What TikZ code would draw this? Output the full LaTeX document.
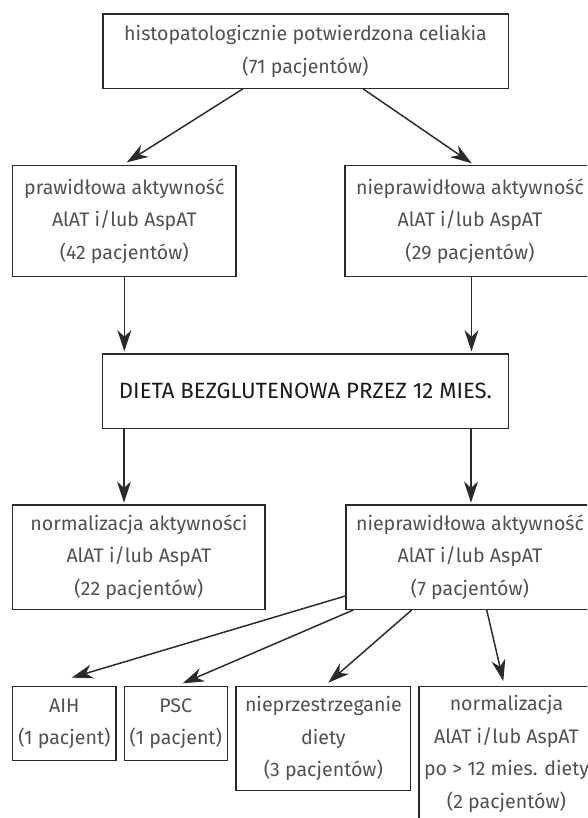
\documentclass[tikz,border=0pt]{standalone}
\usepackage{fontspec}
\setmainfont{Fira Sans}
\usetikzlibrary{arrows.meta,calc}
\definecolor{linec}{HTML}{2A2A2A}
\definecolor{textc}{HTML}{505050}
\definecolor{darkc}{HTML}{1A1A1A}
\tikzset{
  box/.style={draw=linec, line width=1pt, inner sep=0pt, align=center,
    text=textc, font=\fontsize{14.7}{24.4}\selectfont},
  arr/.style={draw=linec, line width=1.1pt,
    -{Stealth[length=16pt,width=10.5pt,inset=5pt]}}
}
\begin{document}
\begin{tikzpicture}[x=0.75pt,y=-0.75pt]
\useasboundingbox (0,0) rectangle (587,818);
\clip (0,0) rectangle (587,818);
\node[box, minimum width=304pt, minimum height=55.7pt] (top) at (305.5,51.2)
  {histopatologicznie potwierdzona celiakia\\(71 pacjentów)};
\node[box, minimum width=167.5pt, minimum height=83.25pt] (ml) at (124.35,221.2)
  {prawidłowa aktywność\\AlAT i/lub AspAT\\(42 pacjentów)};
\node[box, minimum width=187.5pt, minimum height=83.25pt] (mr) at (470,221.2)
  {nieprawidłowa aktywność\\AlAT i/lub AspAT\\(29 pacjentów)};
\node[box, text=darkc, font=\fontsize{16.6}{24.4}\selectfont, minimum width=304.2pt, minimum height=55.7pt] (dieta) at (305.5,391.2)
  {DIETA BEZGLUTENOWA PRZEZ 12 MIES.};
\node[box, minimum width=189.2pt, minimum height=78.2pt] (bl) at (138.85,557.2)
  {normalizacja aktywności\\AlAT i/lub AspAT\\(22 pacjentów)};
\node[box, minimum width=186pt, minimum height=78.2pt] (br) at (470,557.2)
  {nieprawidłowa aktywność\\AlAT i/lub AspAT\\(7 pacjentów)};
\node[box, minimum width=77.5pt, minimum height=55.5pt] (aih) at (64.35,723.7)
  {AIH\\(1 pacjent)};
\node[box, minimum width=77.25pt, minimum height=55.5pt] (psc) at (175.8,723.7)
  {PSC\\(1 pacjent)};
\node[box, minimum width=131pt, minimum height=78pt] (niep) at (323.35,738.7)
  {nieprzestrzeganie\\diety\\(3 pacjentów)};
\node[box, minimum width=131.25pt, minimum height=101pt] (norm) at (506.5,754)
  {normalizacja\\AlAT i/lub AspAT\\po > 12 mies. diety\\(2 pacjentów)};
% connectors
\draw[arr] ($(top.south)+(-62.8,0)$) -- ($(ml.north)+(2.35,-2.7)$);
\draw[arr] ($(top.south)+(57.8,0)$) -- ($(mr.north)+(1.7,-1.7)$);
\draw[arr] (ml.south) -- ($(ml.south |- dieta.north)+(0,-2)$);
\draw[arr] ($(mr.south)+(1.5,0)$) coordinate (m2) -- ($(m2 |- dieta.north)+(0,-2)$);
\draw[arr] ($(dieta.south)+(-181.5,0)$) coordinate (d1) -- ($(d1 |- bl.north)+(0,-1.7)$);
\draw[arr] ($(dieta.south)+(165.5,0)$) coordinate (d2) -- ($(d2 |- br.north)+(0,-1.7)$);
\draw[arr] ($(br.west)+(0,38.8)$) -- ($(aih.north)+(7.35,-8.4)$);
\draw[arr] ($(br.south)+(-116.7,0)$) -- ($(psc.north)+(6.9,-2.7)$);
\draw[arr] ($(br.south)+(-58.3,0)$) -- ($(niep.north)+(4.95,-3.4)$);
\draw[arr] ($(br.south)+(16.7,0)$) -- ($(norm.north)+(-3.2,-5)$);
\end{tikzpicture}
\end{document}
